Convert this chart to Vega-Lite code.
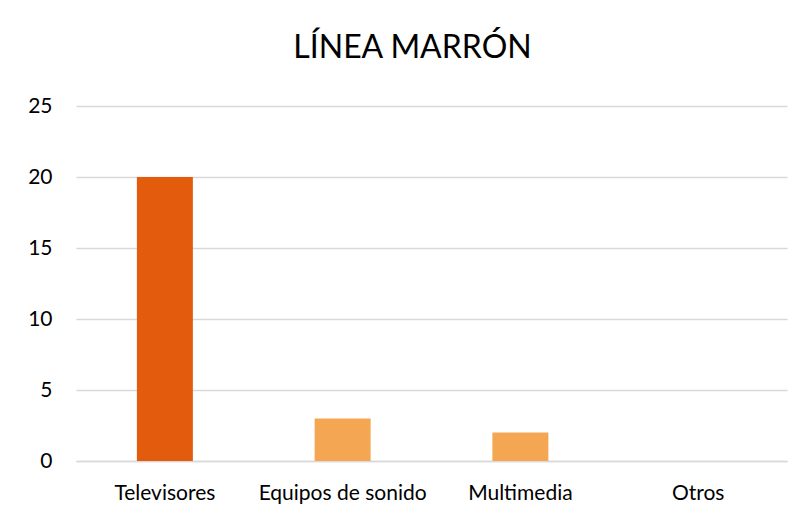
{
  "$schema": "https://vega.github.io/schema/vega-lite/v6.json",
  "autosize": "none",
  "width": 711,
  "height": 355,
  "padding": {"left": 76, "top": 106, "right": 18, "bottom": 57},
  "background": "white",
  "config": {"view": {"stroke": null}, "font": "Lato"},
  "title": {
    "text": "LÍNEA MARRÓN",
    "font": "Lato",
    "fontSize": 32,
    "fontWeight": "normal",
    "color": "#000000",
    "anchor": "middle",
    "dx": -19,
    "offset": 30
  },
  "data": {
    "values": [
      {"categoria": "Televisores", "valor": 20},
      {"categoria": "Equipos de sonido", "valor": 3},
      {"categoria": "Multimedia", "valor": 2},
      {"categoria": "Otros", "valor": 0}
    ]
  },
  "mark": {"type": "bar"},
  "encoding": {
    "x": {
      "field": "categoria",
      "type": "nominal",
      "sort": null,
      "scale": {"paddingInner": 0.685, "paddingOuter": 0.3425},
      "axis": {
        "title": null,
        "labelAngle": 0,
        "labelFont": "Lato",
        "labelFontSize": 21,
        "labelColor": "#000000",
        "labelPadding": 21,
        "ticks": false,
        "domainColor": "#D9D9D9",
        "domainWidth": 1.5
      }
    },
    "y": {
      "field": "valor",
      "type": "quantitative",
      "scale": {"domain": [0, 25]},
      "axis": {
        "title": null,
        "values": [0, 5, 10, 15, 20, 25],
        "labelFont": "Lato",
        "labelFontSize": 21,
        "labelColor": "#000000",
        "labelPadding": 24,
        "ticks": false,
        "domain": false,
        "gridColor": "#D9D9D9",
        "gridWidth": 1.5
      }
    },
    "color": {
      "field": "categoria",
      "type": "nominal",
      "scale": {
        "domain": ["Televisores", "Equipos de sonido", "Multimedia", "Otros"],
        "range": ["#E35B0C", "#F4A652", "#F4A652", "#F4A652"]
      },
      "legend": null
    }
  }
}
